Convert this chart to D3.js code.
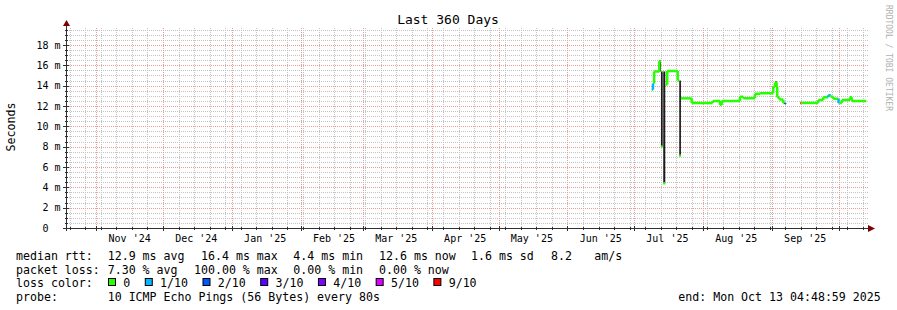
<!DOCTYPE html>
<html>
<head>
<meta charset="utf-8">
<script src="https://cdn.jsdelivr.net/npm/d3@7"></script>
<style>
  body { margin: 0; background: #fff; }
  svg { display: block; font-family: "DejaVu Sans Mono", monospace; }
  text { white-space: pre; }
</style>
</head>
<body>
<svg id="chart" width="897" height="310"></svg>
<script>
// ---- data ----
const titleText = "Last 360 Days";
const unitLabel = "Seconds";
const watermark = "RRDTOOL / TOBI OETIKER";
const rangeStart = "2024-10-18T19:30:00Z";
const rangeDays = 360;
const yMaxMs = 19.67;
const yTicks = [0, 2, 4, 6, 8, 10, 12, 14, 16, 18];

// step segments of the median rtt (start time, ms, loss level out of 10, smoke range)
const segStart = [
  "2025-07-08T22:00Z", "2025-07-09T12:00Z", "2025-07-10T00:00Z", "2025-07-12T08:00Z",
  "2025-07-13T02:00Z", "2025-07-13T21:00Z", "2025-07-14T03:00Z", "2025-07-15T01:00Z",
  "2025-07-15T22:00Z", "2025-07-20T15:00Z", "2025-07-21T08:00Z", "2025-07-22T02:00Z",
  "2025-07-26T22:00Z", "2025-08-05T09:00Z", "2025-08-08T16:00Z", "2025-08-09T10:00Z",
  "2025-08-17T16:00Z", "2025-08-19T03:00Z", "2025-08-24T10:00Z", "2025-08-26T16:00Z",
  "2025-09-01T15:00Z", "2025-09-02T10:00Z", "2025-09-03T04:00Z", "2025-09-03T10:00Z",
  "2025-09-04T08:00Z", "2025-09-06T03:00Z", "2025-09-07T00:00Z", "2025-09-07T05:00Z",
  "2025-09-13T19:00Z", "2025-09-14T06:00Z", "2025-09-21T21:00Z", "2025-09-24T03:00Z",
  "2025-09-26T09:00Z", "2025-09-27T12:00Z", "2025-09-28T15:00Z", "2025-10-01T00:00Z",
  "2025-10-01T12:00Z", "2025-10-02T11:00Z", "2025-10-06T04:00Z", "2025-10-06T23:00Z"
];
const dataEnd = "2025-10-13T12:00Z";
const medianMs = [
  13.6, 14.2, 15.4, 16.4,
  8.0, 15.4, 4.4, 14.1,
  15.45, 14.5, 7.1, 12.75,
  12.3, 12.5, 12.1, 12.5,
  12.9, 12.75, 13.2, 13.25,
  13.9, 14.3, 13.9, 12.85,
  12.65, 12.3, 12.2, null,
  12.3, 12.3, 12.6, 12.85,
  13.05, 12.9, 12.7, 12.3,
  12.3, 12.6, 12.85, 12.5
];
const lossLevel = [
  0, 1, 0, 0,
  0, 0, 0, 0,
  0, 0, 0, 0,
  0, 0, 0, 0,
  0, 0, 0, 0,
  0, 0, 0, 0,
  0, 0, 2, 0,
  9, 0, 0, 0,
  1, 0, 0, 1,
  0, 0, 0, 0
];
const smokeLo = [
  null, null, null, 15.4,
  8.0, null, 4.4, null,
  null, null, 7.1, null,
  null, null, 12.1, null,
  null, null, null, null,
  null, 13.9, null, null,
  null, null, null, null,
  null, null, null, null,
  null, null, null, null,
  null, null, null, null
];
const smokeHi = [
  null, null, null, 16.5,
  15.4, null, 15.4, null,
  null, null, 14.5, null,
  null, null, 12.5, null,
  null, null, null, null,
  null, 14.45, null, null,
  null, null, null, null,
  null, null, null, null,
  null, null, null, null,
  null, null, null, null
];

// summary legend
const rttStats = { avg: 12.9, max: 16.4, min: 4.4, now: 12.6, sd: 1.6, amps: 8.2 };
const lossStats = { avg: 7.30, max: 100.00, min: 0.00, now: 0.00 };
const lossLevels = [0, 1, 2, 3, 4, 5, 9];
const lossLabels = ["0", "1/10", "2/10", "3/10", "4/10", "5/10", "9/10"];
const lossColors = ["#26ff00", "#00b8ff", "#0059ff", "#5e00ff", "#7e00ff", "#dd00ff", "#ff0000"];
const probeText = "10 ICMP Echo Pings (56 Bytes) every 80s";
const endText = "end: Mon Oct 13 04:48:59 2025";

// ---- layout ----
const plot = { left: 67, right: 867, top: 28, bottom: 228 };
const rttCols = [107.7, 201, 293.3, 379, 471, 551, 594.3];
const lossCols = [107.7, 194, 293.3, 379];
const rowY = [260, 273.5, 287, 301];
const charW = 6.98;

const svg = d3.select("#chart");
svg.append("rect").attr("width", 897).attr("height", 310).attr("fill", "#fff");

const t0 = new Date(rangeStart);
const t1 = d3.utcDay.offset(t0, rangeDays);
const x = d3.scaleUtc().domain([t0, t1]).range([plot.left, plot.right]);
const y = d3.scaleLinear().domain([0, yMaxMs]).range([plot.bottom, plot.top]);
const px = v => Math.round(v) + 0.5;

const minorCol = "#c4c4c4";
const majorCol = "#ec9a9a";
const axisCol = "#303030";
const arrowCol = "#7f0000";

// grid
const grid = svg.append("g").attr("fill", "none").attr("stroke-width", 1).attr("stroke-dasharray", "1,1");

const minorY = d3.range(0.5, yMaxMs, 0.5).filter(v => v % 2 !== 0);
grid.selectAll(".gy").data(minorY).enter().append("line")
  .attr("x1", plot.left).attr("x2", plot.right + 1)
  .attr("y1", d => px(y(d))).attr("y2", d => px(y(d)))
  .attr("stroke", minorCol);

const months = d3.utcMonth.range(t0, t1);
const weeks = d3.utcSunday.range(t0, t1).filter(d => !months.some(m => Math.abs(x(m) - x(d)) < 1));

grid.selectAll(".gx").data(weeks).enter().append("line")
  .attr("x1", d => px(x(d))).attr("x2", d => px(x(d)))
  .attr("y1", plot.top).attr("y2", plot.bottom)
  .attr("stroke", minorCol);

grid.selectAll(".my").data(yTicks.filter(v => v > 0)).enter().append("line")
  .attr("x1", plot.left).attr("x2", plot.right + 1)
  .attr("y1", d => px(y(d))).attr("y2", d => px(y(d)))
  .attr("stroke", majorCol);

grid.selectAll(".mx").data(months).enter().append("line")
  .attr("x1", d => px(x(d))).attr("x2", d => px(x(d)))
  .attr("y1", plot.top).attr("y2", plot.bottom)
  .attr("stroke", majorCol);

// segments
const starts = segStart.map(s => new Date(s));
const segs = starts.map((s, i) => ({
  s, e: i + 1 < starts.length ? starts[i + 1] : new Date(dataEnd),
  m: medianMs[i], prev: i > 0 ? medianMs[i - 1] : null,
  color: lossColors[lossLevels.indexOf(lossLevel[i])],
  lo: smokeLo[i], hi: smokeHi[i]
}));

// smoke
svg.append("g").selectAll("rect").data(segs.filter(d => d.hi != null)).enter().append("rect")
  .attr("x", d => x(d.s)).attr("width", d => Math.max(1, x(d.e) - x(d.s)))
  .attr("y", d => y(d.hi)).attr("height", d => y(d.lo) - y(d.hi))
  .attr("fill", "#1c1c1c");

// median line
const line = svg.append("g").attr("fill", "none").attr("stroke-width", 2.5).attr("stroke-linecap", "butt");
segs.filter(d => d.m != null).forEach(d => {
  let path = `M${x(d.s)},${y(d.m)}H${x(d.e)}`;
  if (d.prev != null && Math.abs(d.prev - d.m) < 2) {
    path = `M${x(d.s)},${y(d.prev)}V${y(d.m)}` + path;
  }
  line.append("path").attr("d", path).attr("stroke", d.color);
});

// axes
const axes = svg.append("g");
axes.append("line").attr("x1", 63).attr("x2", plot.right + 2)
  .attr("y1", plot.bottom + 0.5).attr("y2", plot.bottom + 0.5).attr("stroke", axisCol);
axes.append("line").attr("x1", plot.left - 0.5).attr("x2", plot.left - 0.5)
  .attr("y1", plot.bottom + 3).attr("y2", plot.top - 3).attr("stroke", axisCol);
axes.append("path").attr("d", `M${plot.left - 4},${plot.top - 2}L${plot.left + 3},${plot.top - 2}L${plot.left - 0.5},${plot.top - 8}Z`)
  .attr("fill", arrowCol);
axes.append("path").attr("d", `M${plot.right + 1},${plot.bottom - 3}L${plot.right + 1},${plot.bottom + 4}L${plot.right + 8},${plot.bottom + 0.5}Z`)
  .attr("fill", arrowCol);

axes.selectAll(".yt").data(yTicks).enter().append("line")
  .attr("x1", plot.left - 4).attr("x2", plot.left + 2)
  .attr("y1", d => px(y(d))).attr("y2", d => px(y(d))).attr("stroke", axisCol);
axes.selectAll(".ym").data(minorY).enter().append("line")
  .attr("x1", plot.left - 2).attr("x2", plot.left + 1)
  .attr("y1", d => px(y(d))).attr("y2", d => px(y(d))).attr("stroke", axisCol);
axes.selectAll(".xt").data(months).enter().append("line")
  .attr("x1", d => px(x(d))).attr("x2", d => px(x(d)))
  .attr("y1", plot.bottom - 2).attr("y2", plot.bottom + 3).attr("stroke", axisCol);
axes.selectAll(".xm").data(weeks).enter().append("line")
  .attr("x1", d => px(x(d))).attr("x2", d => px(x(d)))
  .attr("y1", plot.bottom - 1).attr("y2", plot.bottom + 2).attr("stroke", axisCol);

// tick labels
svg.append("g").attr("font-size", "10px").attr("fill", "#000").attr("text-anchor", "end")
  .selectAll("text").data(yTicks).enter().append("text")
  .attr("x", 60.5).attr("y", d => y(d) + 3.6)
  .text(d => d === 0 ? "0  " : `${d} m`);

const fmt = d3.utcFormat("%b '%y");
const labelDates = months.concat([d3.utcMonth.offset(months[months.length - 1], 1)])
  .map(m => d3.utcDay.offset(m, 15))
  .filter(d => d > t0 && d < t1 && x(d) > plot.left + 20 && x(d) < plot.right - 20);
svg.append("g").attr("font-size", "10px").attr("fill", "#000").attr("text-anchor", "middle")
  .selectAll("text").data(labelDates).enter().append("text")
  .attr("x", d => x(d)).attr("y", 241.5)
  .text(d => fmt(d));

// titles
svg.append("text").attr("x", 448).attr("y", 24).attr("text-anchor", "middle")
  .attr("font-size", "13px").text(titleText);
svg.append("text").attr("transform", "translate(15,127) rotate(-90)").attr("text-anchor", "middle")
  .attr("font-size", "11.6px").text(unitLabel);
svg.append("text").attr("transform", "translate(886,5) rotate(90)")
  .attr("font-size", "8px").attr("fill", "#b0b0b0").text(watermark);

// legend
const leg = svg.append("g").attr("font-size", "11.6px").attr("fill", "#000");
const rttTexts = [
  `${rttStats.avg.toFixed(1)} ms avg`, `${rttStats.max.toFixed(1)} ms max`,
  `${rttStats.min.toFixed(1)} ms min`, `${rttStats.now.toFixed(1)} ms now`,
  `${rttStats.sd.toFixed(1)} ms sd`, `${rttStats.amps.toFixed(1)}`, "am/s"
];
const lossTexts = [
  `${lossStats.avg.toFixed(2)} % avg`, `${lossStats.max.toFixed(2)} % max`,
  `${lossStats.min.toFixed(2)} % min`, `${lossStats.now.toFixed(2)} % now`
];
leg.append("text").attr("x", 16).attr("y", rowY[0]).text("median rtt:");
rttTexts.forEach((t, i) => leg.append("text").attr("x", rttCols[i]).attr("y", rowY[0]).text(t));
leg.append("text").attr("x", 16).attr("y", rowY[1]).text("packet loss:");
lossTexts.forEach((t, i) => leg.append("text").attr("x", lossCols[i]).attr("y", rowY[1]).text(t));
leg.append("text").attr("x", 16).attr("y", rowY[2]).text("loss color:");
let bx = 108.5;
lossLabels.forEach((lab, i) => {
  leg.append("rect").attr("x", bx).attr("y", rowY[2] - 8.5).attr("width", 7).attr("height", 7)
    .attr("fill", lossColors[i]).attr("stroke", "#000").attr("stroke-width", 1);
  leg.append("text").attr("x", bx + 14.8).attr("y", rowY[2]).text(lab);
  bx = bx + 14.8 + lab.length * charW + 15;
});
leg.append("text").attr("x", 16).attr("y", rowY[3]).text("probe:");
leg.append("text").attr("x", 107.7).attr("y", rowY[3]).text(probeText);
leg.append("text").attr("x", 678.3).attr("y", rowY[3]).text(endText);
</script>
</body>
</html>
